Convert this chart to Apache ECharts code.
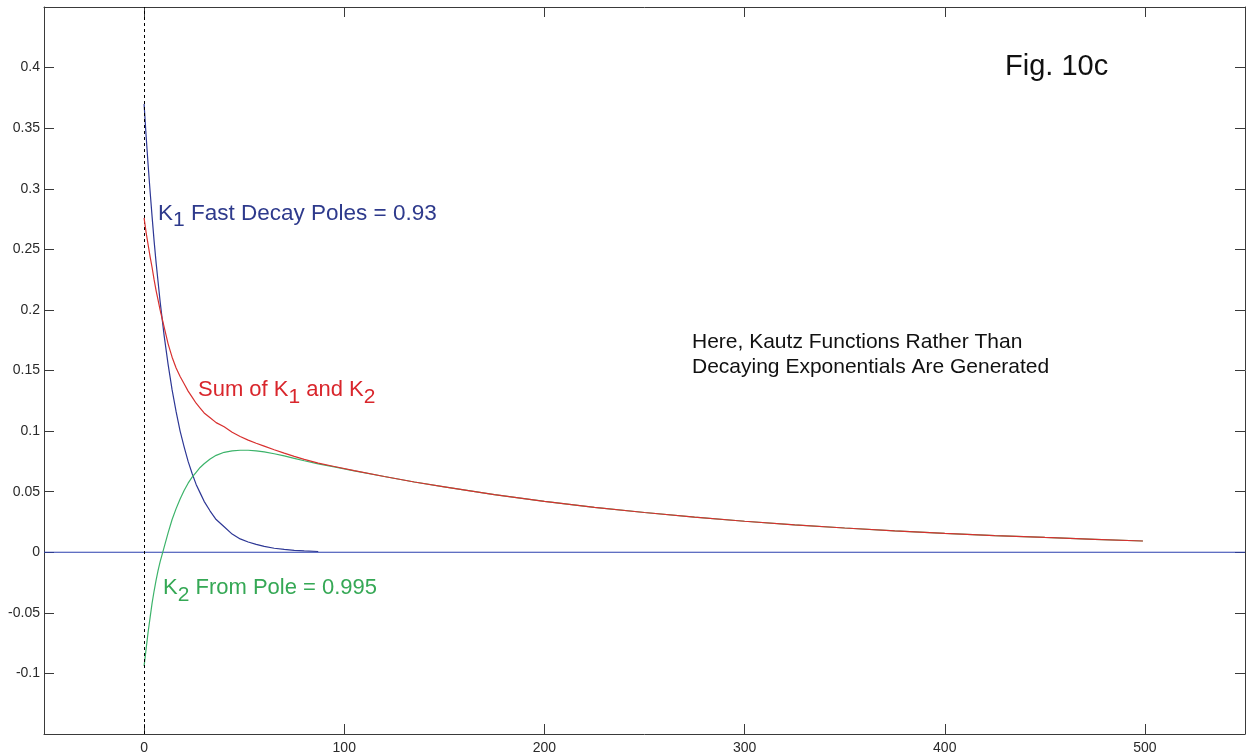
<!DOCTYPE html>
<html>
<head>
<meta charset="utf-8">
<script src="https://cdn.jsdelivr.net/npm/echarts@6/dist/echarts.min.js"></script>
<style>
html,body{margin:0;padding:0;background:#fff;}
#chart{width:1246px;height:755px;}
</style>
</head>
<body>
<div id="chart"></div>
<script>
// ---- data ----
const xTicks = [0, 100, 200, 300, 400, 500];
const yTicks = [-0.1, -0.05, 0, 0.05, 0.1, 0.15, 0.2, 0.25, 0.3, 0.35, 0.4];

const k1X = [0, 1, 2, 3, 4, 5, 6, 7, 8, 9, 10, 12, 14, 16, 18, 20, 22, 24, 26, 28, 30, 33, 36, 40, 44, 48, 52, 56, 60, 65, 70, 75, 80, 87];
const k1Y = [0.370, 0.344, 0.320, 0.298, 0.277, 0.257, 0.239, 0.223, 0.207, 0.193, 0.179, 0.155, 0.134, 0.116, 0.100, 0.087, 0.075, 0.065, 0.056, 0.049, 0.042, 0.034, 0.027, 0.021, 0.015, 0.011, 0.0085, 0.0065, 0.0048, 0.0033, 0.0023, 0.0016, 0.0011, 0.0006];

const k2X = [0, 1, 2, 3, 4, 5, 6, 7, 8, 9, 10, 12, 14, 16, 18, 20, 22, 24, 26, 28, 30, 33, 36, 40, 44, 48, 52, 56, 60, 65, 70, 75, 80, 87, 95, 105, 120, 135, 150, 175, 200, 225, 250, 275, 300, 325, 350, 375, 400, 425, 450, 475, 499];
const k2Y = [-0.094, -0.080, -0.066, -0.054, -0.042, -0.032, -0.023, -0.015, -0.008, -0.002, 0.004, 0.016, 0.027, 0.036, 0.044, 0.051, 0.057, 0.062, 0.066, 0.070, 0.073, 0.077, 0.080, 0.0825, 0.0837, 0.0842, 0.0842, 0.0837, 0.0828, 0.0813, 0.0795, 0.0775, 0.0755, 0.0730, 0.0705, 0.0672, 0.0625, 0.0580, 0.0540, 0.0475, 0.0420, 0.0370, 0.0328, 0.0290, 0.0256, 0.0226, 0.0200, 0.0176, 0.0156, 0.0138, 0.0122, 0.0107, 0.0093];

const sumX = [0, 1, 2, 3, 4, 5, 6, 7, 8, 9, 10, 12, 14, 16, 18, 20, 22, 24, 26, 28, 30, 33, 36, 40, 44, 48, 52, 56, 60, 65, 70, 75, 80, 87, 95, 105, 120, 135, 150, 175, 200, 225, 250, 275, 300, 325, 350, 375, 400, 425, 450, 475, 499];
const sumY = [0.276, 0.264, 0.254, 0.244, 0.235, 0.225, 0.216, 0.208, 0.200, 0.193, 0.186, 0.172, 0.161, 0.152, 0.145, 0.139, 0.133, 0.128, 0.123, 0.119, 0.115, 0.111, 0.107, 0.1035, 0.099, 0.0955, 0.0925, 0.0900, 0.0876, 0.0846, 0.0818, 0.0791, 0.0766, 0.0736, 0.0708, 0.0673, 0.0625, 0.0580, 0.0540, 0.0475, 0.0420, 0.0370, 0.0328, 0.0290, 0.0256, 0.0226, 0.0200, 0.0176, 0.0156, 0.0138, 0.0122, 0.0107, 0.0093];

const zeroLineX = [-50, 550];
const zeroLineY = [0, 0];
const markerX = 0;

// ---- chart ----
const FONT = '"Liberation Sans", Arial, sans-serif';
const AX = '#3a3a3a';
const BLUE = '#2d3795';
const RED = '#d8302f';
const GREEN = '#3cb36a';

function pairs(xs, ys) { return xs.map((x, i) => [x, ys[i]]); }

const chart = echarts.init(document.getElementById('chart'), null, {renderer: 'canvas'});

const baseX = {
  type: 'value', min: -50, max: 550,
  splitLine: {show: false},
  axisLine: {show: true, onZero: false, lineStyle: {color: AX, width: 1}},
  axisTick: {show: true, inside: true, length: 10, customValues: xTicks, lineStyle: {color: AX}},
};
const baseY = {
  type: 'value', min: -0.15, max: 0.45,
  splitLine: {show: false},
  axisLine: {show: true, onZero: false, lineStyle: {color: AX, width: 1}},
  axisTick: {show: true, inside: true, length: 10, customValues: yTicks, lineStyle: {color: AX}},
};

const option = {
  animation: false,
  backgroundColor: '#ffffff',
  grid: {left: 44, right: 1, top: 7, bottom: 20, containLabel: false},
  xAxis: [
    Object.assign({}, baseX, {position: 'bottom',
      axisLabel: {show: true, customValues: xTicks, color: '#2a2a2a', fontFamily: FONT, fontSize: 14, margin: 7}}),
    Object.assign({}, baseX, {position: 'top', axisLabel: {show: false}})
  ],
  yAxis: [
    Object.assign({}, baseY, {position: 'left',
      axisLabel: {show: true, customValues: yTicks, color: '#2a2a2a', fontFamily: FONT, fontSize: 14, margin: 4,
        formatter: v => String(Math.round(v * 100) / 100)}}),
    Object.assign({}, baseY, {position: 'right', axisLabel: {show: false}})
  ],
  series: [
    {
      name: 'zero', type: 'line', data: pairs(zeroLineX, zeroLineY), showSymbol: false, silent: true,
      lineStyle: {color: '#2b3fae', width: 1.2}, z: 2,
      markLine: {
        silent: true, symbol: 'none', label: {show: false}, animation: false,
        lineStyle: {color: '#000000', width: 1, type: [3, 3], opacity: 1},
        data: [{xAxis: markerX}]
      }
    },
    {
      name: 'K1', type: 'line', data: pairs(k1X, k1Y), showSymbol: false, smooth: false,
      lineStyle: {color: BLUE, width: 1.2}, z: 3
    },
    {
      name: 'K2', type: 'line', data: pairs(k2X, k2Y), showSymbol: false, smooth: false,
      lineStyle: {color: GREEN, width: 1.2}, z: 4
    },
    {
      name: 'Sum', type: 'line', data: pairs(sumX, sumY), showSymbol: false, smooth: false,
      lineStyle: {color: RED, width: 1.2}, z: 5
    }
  ],
  graphic: [
    {type: 'text', left: 1005, top: 52, style: {text: 'Fig. 10c', font: '29px ' + FONT, fill: '#111'}},
    {type: 'text', left: 692, top: 330, style: {text: 'Here, Kautz Functions Rather Than\nDecaying Exponentials Are Generated',
      font: '21px ' + FONT, fill: '#111', lineHeight: 25}},
    {type: 'text', x: 158, y: 220, style: {
      text: '{a|K}{s|1}{a| Fast Decay Poles = 0.93}', verticalAlign: 'middle',
      rich: {a: {fontSize: 22.5, fontFamily: FONT, fill: '#2e3a8c', lineHeight: 22, verticalAlign: 'top'},
             s: {fontSize: 21, fontFamily: FONT, fill: '#2e3a8c', lineHeight: 36}}}},
    {type: 'text', x: 198, y: 397, style: {
      text: '{a|Sum of K}{s|1}{a| and K}{s|2}', verticalAlign: 'middle',
      rich: {a: {fontSize: 22, fontFamily: FONT, fill: '#d9262c', lineHeight: 22, verticalAlign: 'top'},
             s: {fontSize: 21, fontFamily: FONT, fill: '#d9262c', lineHeight: 36}}}},
    {type: 'text', x: 163, y: 595, style: {
      text: '{a|K}{s|2}{a| From Pole = 0.995}', verticalAlign: 'middle',
      rich: {a: {fontSize: 22, fontFamily: FONT, fill: '#35a855', lineHeight: 22, verticalAlign: 'top'},
             s: {fontSize: 21, fontFamily: FONT, fill: '#35a855', lineHeight: 36}}}}
  ]
};
chart.setOption(option);
</script>
</body>
</html>
